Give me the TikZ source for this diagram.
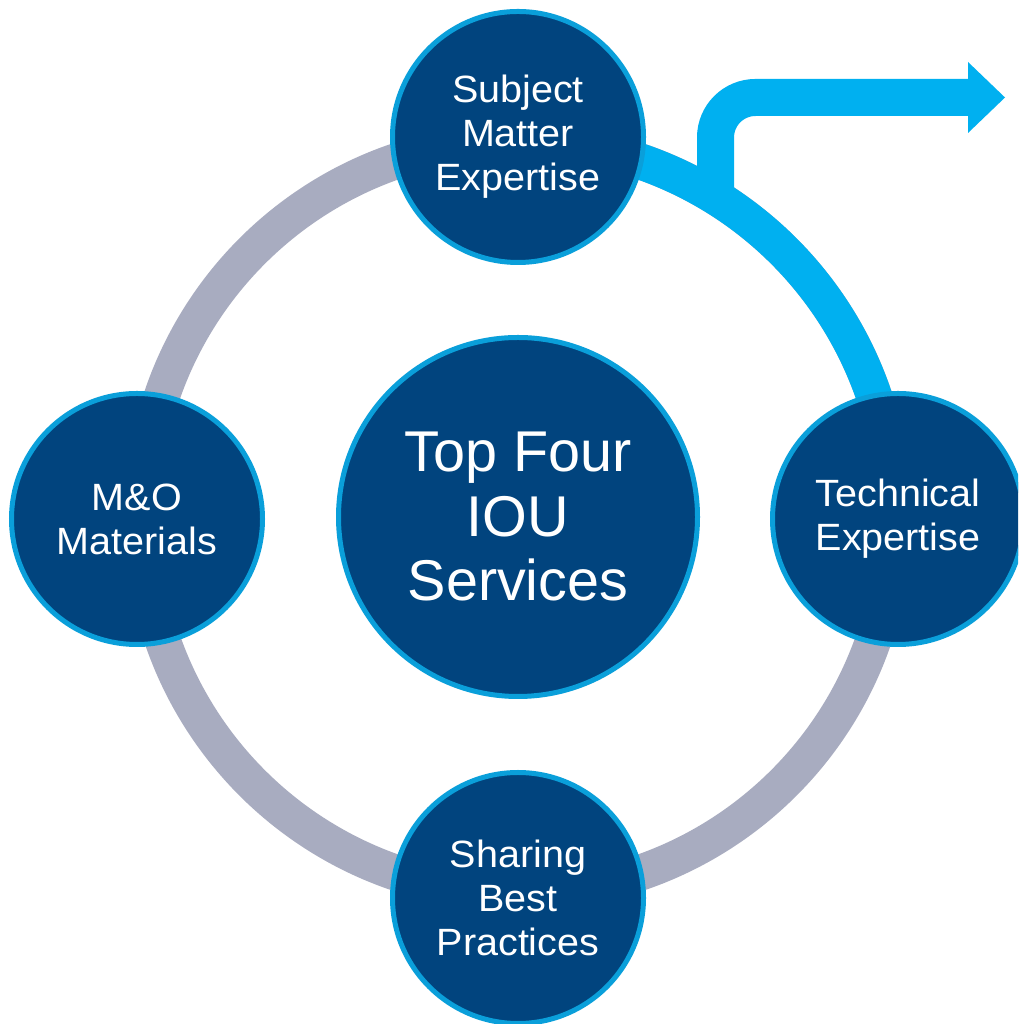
\documentclass[tikz,border=0pt]{standalone}
\usepackage{fontspec}
\setmainfont{Liberation Sans}
\newfontfamily\widesans[FakeStretch=1.04]{Liberation Sans}
\definecolor{navy}{HTML}{01447E}
\definecolor{rim}{HTML}{0A9FDA}
\definecolor{flow}{HTML}{00B0F0}
\definecolor{ringgray}{HTML}{A8ACC0}
\tikzset{
  bubble/.style={circle, fill=navy, draw=rim, line width=5pt, inner sep=0pt,
    minimum size=251pt, text=white, align=center,
    font=\widesans\fontsize{38}{44}\selectfont},
  hub/.style={bubble, minimum size=359pt, font=\fontsize{57.5}{64.5}\selectfont},
  ringline/.style={draw=ringgray, line width=36pt},
  flowline/.style={draw=flow, line width=36pt},
}
\begin{document}
\begin{tikzpicture}[x=1pt,y=1pt]
\clip (0,0) rectangle (1018,1024);
\fill[white] (0,0) rectangle (1018,1024);
\coordinate (c) at (518,507);
% gray ring
\draw[ringline] (c) circle (376pt);
% blue arc on ring
\draw[flowline] (c) ++(82:376pt) arc[start angle=82, end angle=8, radius=376pt];
% branch arrow
\coordinate (stem) at (715.5,825);
\coordinate (bend) at (715.5,926.5);
\coordinate (headbase) at (970,926.5);
\coordinate (tip) at (1005,926.5);
\draw[draw=flow, line width=37pt, rounded corners=40pt] (stem) -- (bend) -- (headbase);
\fill[flow] (968,962) -- (tip) -- (968,891) -- cycle;
% nodes
\node[hub] (hub) at (c) {Top Four\\IOU\\Services};
\node[bubble] (sme) at (518,887) {Subject\\Matter\\Expertise};
\node[bubble] (tech) at (898,505) {Technical\\Expertise};
\node[bubble] (mo) at (137,505) {M\&O\\Materials};
\node[bubble] (sbp) at (518,126) {Sharing\\Best\\Practices};
\end{tikzpicture}
\end{document}
